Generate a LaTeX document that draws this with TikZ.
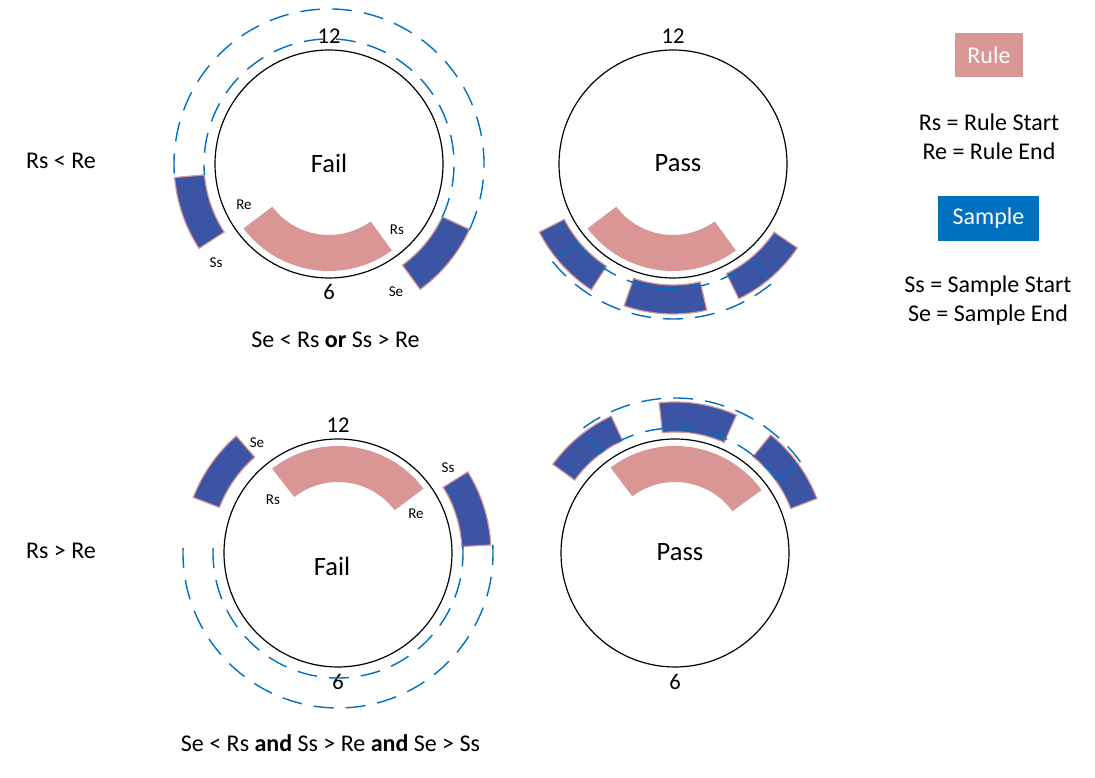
\documentclass[tikz,border=0pt]{standalone}
\usepackage{fontspec}
\setmainfont{Carlito}
\usetikzlibrary{calc,positioning}
\definecolor{rulepink}{RGB}{217,150,148}
\definecolor{sampleblue}{RGB}{59,85,164}
\definecolor{legendblue}{RGB}{0,112,192}
\tikzset{
    % clock faces and their texts
    clockface/.style={circle, draw=black, line width=1.2pt,
        minimum size=228pt, inner sep=0pt},
    hour/.style={font=\fontsize{22.5}{26}\selectfont, inner sep=1pt},
    verdict/.style={font=\fontsize{26.5}{30}\selectfont},
    endlab/.style={font=\fontsize{15}{18}\selectfont},
    cond/.style={font=\fontsize{24}{29}\selectfont},
    legendtext/.style={font=\fontsize{24}{29}\selectfont, align=center},
    % legend boxes
    rulebox/.style={fill=rulepink, text=white, minimum width=68pt,
        minimum height=44pt, font=\fontsize{24}{28}\selectfont},
    samplebox/.style={fill=legendblue, text=white, minimum width=101pt,
        minimum height=45pt, font=\fontsize{24}{28}\selectfont},
}
\tikzset{
    % bands round the clock
    ruleband/.style={fill=rulepink},
    sampleband/.style={fill=sampleblue, draw=rulepink, line width=1.2pt},
    spanarc/.style={draw=legendblue, line width=1.4pt, dash pattern=on 20pt off 12pt},
    spanend/.style={draw=legendblue, line width=1.1pt},
}
% style, centre, start angle, end angle, inner radius, outer radius
\newcommand{\clockband}[6]{%
  \path[#1] ([shift={(#3:#6)}]#2.center) arc[start angle=#3, end angle=#4, radius=#6]
    -- ([shift={(#4:#5)}]#2.center) arc[start angle=#4, end angle=#3, radius=#5] -- cycle;}
% centre, start angle, end angle, radius
\newcommand{\dashspan}[4]{%
  \draw[spanarc] ([shift={(#2:#4)}]#1.center) arc[start angle=#2, end angle=#3, radius=#4];}
% centre, angle
\newcommand{\spanedge}[2]{%
  \draw[spanend] ([shift={(#2:125)}]#1.center) -- ([shift={(#2:148)}]#1.center);}

\begin{document}
\begin{tikzpicture}[x=1pt,y=1pt]
  \useasboundingbox (0,0) rectangle (1095,778);

  % the four clocks
  \node[clockface] (tl) at (329,614) {};
  \node[clockface] (tr) at (673,614) {};
  \node[clockface] (bl) at (338,225) {};
  \node[clockface] (br) at (675,225) {};
  \node[hour, above=5pt of tl] {12};  \node[hour, below=5pt of tl] {6};
  \node[hour, above=5pt of tr] {12};
  \node[hour, above=5pt of bl] {12};  \node[hour, below=6pt of bl] {6};
  \node[hour, below=6pt of br] {6};
  \node[verdict] (v1) at (329,615) {Fail};
  \node[verdict] (v2) at (678,615) {Pass};
  \node[verdict] (v3) at (332,212) {Fail};
  \node[verdict] (v4) at (680,226) {Pass};

  % top left: Rs < Re, fail
  \clockband{ruleband}{tl}{217}{306}{71}{107}
  \clockband{sampleband}{tl}{185}{213}{125}{155}
  \clockband{sampleband}{tl}{306}{335}{125}{155}
  \dashspan{tl}{-25}{185}{125}
  \dashspan{tl}{-25}{185}{155}
  \node[endlab] (re1) at (244,573) {Re};
  \node[endlab] (rs1) at (397,548) {Rs};
  \node[endlab] (ss1) at (216,515) {Ss};
  \node[endlab] (se1) at (396,486) {Se};

  % top right: Rs < Re, pass
  \clockband{ruleband}{tr}{217}{306}{71}{107}
  \clockband{sampleband}{tr}{207}{237}{122}{150}
  \clockband{sampleband}{tr}{251}{283}{121}{150}
  \clockband{sampleband}{tr}{296}{326}{122}{150}
  \dashspan{tr}{219}{310}{125}
  \dashspan{tr}{219}{310}{155}
  \spanedge{tr}{219}
  \spanedge{tr}{310}

  % bottom left: Rs > Re, fail
  \clockband{ruleband}{bl}{37}{128}{71}{107}
  \clockband{sampleband}{bl}{131}{159}{127}{155}
  \clockband{sampleband}{bl}{3}{32}{124}{153}
  \dashspan{bl}{3}{-186}{125}
  \dashspan{bl}{3}{-186}{155}
  \node[endlab] (rs3) at (273,278) {Rs};
  \node[endlab] (re3) at (416,264) {Re};
  \node[endlab] (se3) at (257,335) {Se};
  \node[endlab] (ss3) at (448,310) {Ss};

  % bottom right: Rs > Re, pass
  \clockband{ruleband}{br}{36}{127}{71}{107}
  \clockband{sampleband}{br}{115}{144}{124}{151}
  \clockband{sampleband}{br}{66}{96}{121}{151}
  \clockband{sampleband}{br}{21}{51}{124}{152}
  \dashspan{br}{36}{127}{125}
  \dashspan{br}{36}{127}{155}
  \spanedge{br}{36}
  \spanedge{br}{127}

  % conditions
  \node[cond] (c1) at (61,617) {Rs < Re};
  \node[cond] (c2) at (61,227) {Rs > Re};
  \node[cond] (c3) at (335.5,438) {Se < Rs \textbf{or} Ss > Re};
  \node[cond] (c4) at (330.5,35) {Se < Rs \textbf{and} Ss > Re \textbf{and} Se > Ss};

  % legend
  \node[rulebox] (lrule) at (989,723) {Rule};
  \node[legendtext] (lrtext) at (989,641) {Rs = Rule Start\\Re = Rule End};
  \node[samplebox] (lsample) at (988.5,559.5) {Sample};
  \node[legendtext] (lstext) at (988,477) {Ss = Sample Start\\Se = Sample End};
\end{tikzpicture}
\end{document}
